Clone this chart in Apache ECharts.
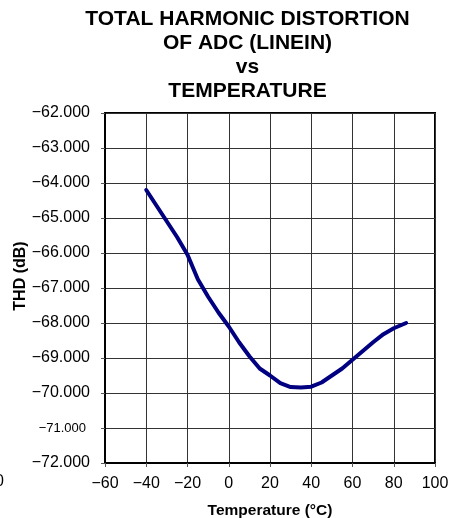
<!DOCTYPE html>
<html>
<head>
<meta charset="utf-8">
<script src="https://cdn.jsdelivr.net/npm/echarts@6/dist/echarts.min.js"></script>
<style>
html,body{margin:0;padding:0;background:#fff;}
#chart{width:451px;height:518px;}
</style>
</head>
<body>
<div id="chart"></div>
<script>
var titleLines = ['TOTAL HARMONIC DISTORTION', 'OF ADC (LINEIN)', 'vs', 'TEMPERATURE'];
var xName = 'Temperature (°C)';
var yName = 'THD (dB)';
var xTicks = [-60, -40, -20, 0, 20, 40, 60, 80, 100];
var yTicks = [-72, -71, -70, -69, -68, -67, -66, -65, -64, -63, -62];
var temperature = [-40, -35, -30, -25, -20, -15, -10, -5, 0, 5, 10, 15, 20, 25, 30, 35, 40, 45, 50, 55, 60, 65, 70, 75, 80, 86];
var thd = [-64.2, -64.65, -65.1, -65.55, -66.05, -66.75, -67.25, -67.7, -68.1, -68.55, -68.95, -69.3, -69.5, -69.72, -69.83, -69.84, -69.82, -69.7, -69.5, -69.3, -69.05, -68.8, -68.55, -68.32, -68.15, -68.0];

var FONT = '"Liberation Sans", Arial, sans-serif';
function minus(v) { return (v < 0 ? '\u2212' : '') + Math.abs(v); }

var chart = echarts.init(document.getElementById('chart'), null, {renderer: 'canvas'});
var pts = temperature.map(function (t, i) { return [t, thd[i]]; });

chart.setOption({
  animation: false,
  backgroundColor: '#fff',
  graphic: [
    {
      type: 'text', x: 247.5, y: 7,
      style: {
        text: titleLines.join('\n'), fill: '#000', align: 'center', verticalAlign: 'top',
        font: 'bold 21px ' + FONT, lineHeight: 24
      }
    },
    {
      type: 'text', x: 21, y: 276, rotation: Math.PI / 2,
      style: {
        text: yName, fill: '#000', align: 'center', verticalAlign: 'middle',
        font: 'bold 16px ' + FONT
      }
    },
    {
      type: 'text', x: 4, y: 482,
      style: {
        text: '0', fill: '#000', align: 'right', verticalAlign: 'middle',
        font: '16px ' + FONT
      }
    }
  ],
  grid: {
    left: 105, right: 16, top: 113, bottom: 55,
    containLabel: false, outerBoundsMode: 'none',
    show: true, borderColor: '#000', borderWidth: 2, backgroundColor: 'transparent'
  },
  xAxis: {
    type: 'value', min: xTicks[0], max: xTicks[xTicks.length - 1], interval: 20,
    name: xName, nameLocation: 'middle', nameGap: 40,
    nameTextStyle: {fontFamily: FONT, fontSize: 15.5, fontWeight: 'bold', color: '#000'},
    axisLine: {show: true, onZero: false, lineStyle: {color: '#000', width: 2}},
    axisTick: {show: true, length: 4, lineStyle: {color: '#555'}},
    axisLabel: {
      margin: 13, color: '#000', fontFamily: FONT, fontSize: 16,
      formatter: function (v) { return minus(v); }
    },
    splitLine: {show: true, lineStyle: {color: '#333', width: 1}}
  },
  yAxis: {
    type: 'value', min: yTicks[0], max: yTicks[yTicks.length - 1], interval: 1,
    axisLine: {show: true, onZero: false, lineStyle: {color: '#000', width: 2}},
    axisTick: {show: true, length: 4, lineStyle: {color: '#555'}},
    axisLabel: {
      margin: 15, color: '#000', fontFamily: FONT, fontSize: 16,
      formatter: function (v) {
        var s = '\u2212' + Math.abs(v).toFixed(3);
        return v === -71 ? '{s|' + s + '}' : s;
      },
      rich: {s: {fontFamily: FONT, fontSize: 13, color: '#000', padding: [0, 4, 0, 0]}}
    },
    splitLine: {show: true, lineStyle: {color: '#333', width: 1}}
  },
  series: [{
    type: 'line', data: pts, showSymbol: false, smooth: false,
    lineStyle: {color: '#000080', width: 4, cap: 'round', join: 'round'},
    z: 5
  }]
});
</script>
</body>
</html>
